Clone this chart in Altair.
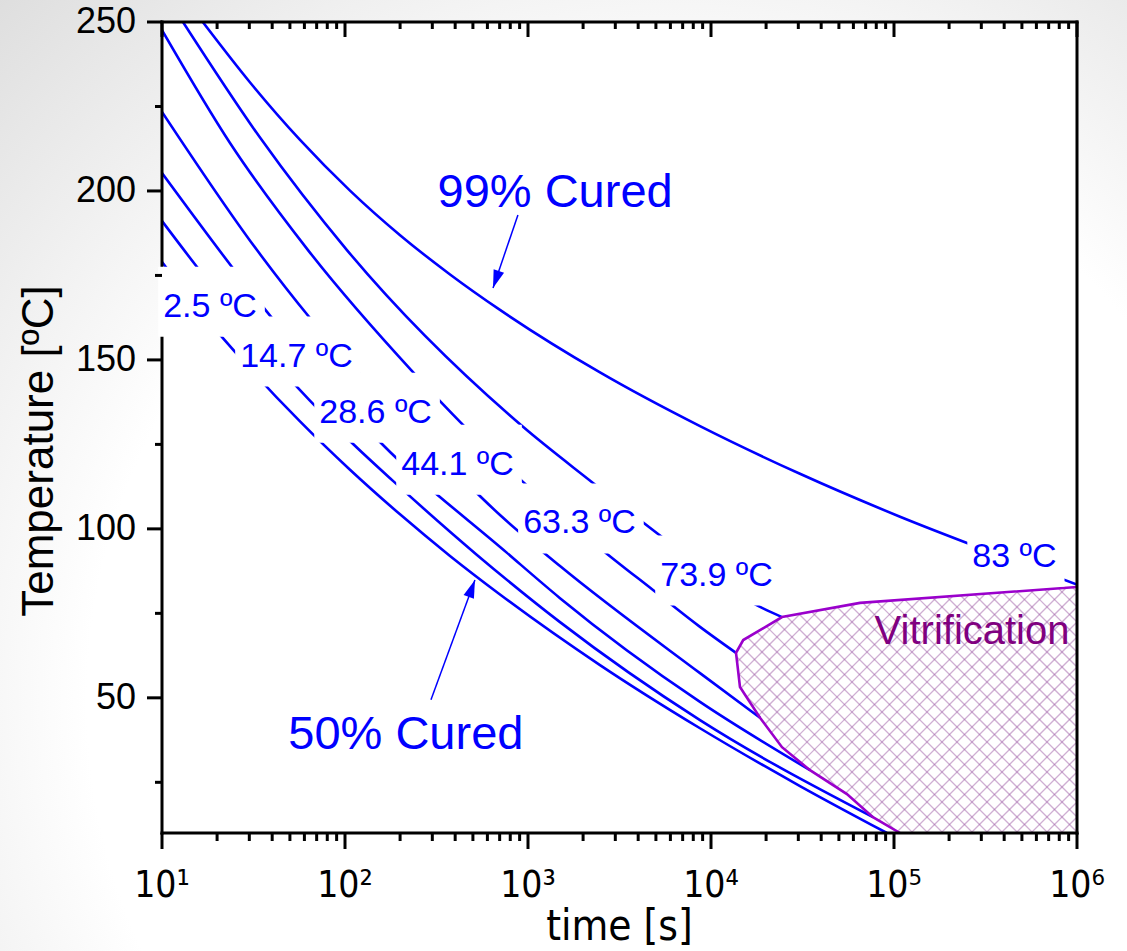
import math
import pandas as pd
import altair as alt

# ---------------------------------------------------------------------------
# Plot geometry and axes
# ---------------------------------------------------------------------------
W, H = 915, 811
PAD = {"left": 162, "top": 22, "right": 50, "bottom": 118}
X_DOMAIN = [10, 1e6]
Y_DOMAIN = [10, 250]

X_MAJOR = [10, 100, 1e3, 1e4, 1e5, 1e6]
X_TICK_LABELS = ["10¹", "10²", "10³", "10⁴", "10⁵", "10⁶"]
X_MINOR = [m * d for d in [10, 100, 1e3, 1e4, 1e5] for m in range(2, 10)]
Y_MAJOR = [50, 100, 150, 200, 250]
Y_TICK_LABELS = ["50", "100", "150", "200", "250"]
Y_MINOR = [25, 75, 125, 175, 225]

BLUE = "#0000ff"
PURPLE = "#9a00cc"
DARK_PURPLE = "#800080"
FONT = "Liberation Sans"
NARROW = "Liberation Sans Narrow, Arial Narrow, DejaVu Sans Condensed, Liberation Sans"

# ---------------------------------------------------------------------------
# Iso-Tg cure curves: time [s] and temperature [ºC]
# ---------------------------------------------------------------------------
time_2_5 = [10, 16.13, 30.27, 56.77, 106.5, 199.8, 374.8, 703.1, 2474, 8708, 30640, 91560]
temp_2_5 = [179.0, 164.5, 147.4, 131.8, 117.5, 104.3, 92.0, 80.6, 59.7, 41.0, 23.9, 10.0]

time_14_7 = [10, 15.54, 54.66, 106.5, 182.9, 526.3, 1496, 8708, 76740]
temp_14_7 = [191.1, 177.5, 142.0, 126.0, 114.2, 92.3, 72.4, 43.4, 14.7]

time_28_6 = [10, 24.13, 37.49, 155.4, 767.9, 1496, 8708, 34750]
temp_28_6 = [205.3, 177.5, 164.2, 125.7, 92.9, 79.5, 48.8, 28.6]

time_44_1 = [10, 33.04, 64.38, 277.1, 703.1, 1496, 8708, 18530]
temp_44_1 = [223.4, 182.5, 162.4, 125.7, 104.1, 89.0, 57.3, 44.1]

time_63_3 = [10, 23.53, 62.79, 235.3, 441.4, 939.1, 2474, 4821, 8708, 13700]
temp_63_3 = [247.6, 214.2, 182.5, 146.4, 130.8, 113.9, 94.3, 81.9, 71.0, 63.3]

time_73_9 = [13.02, 34.32, 102.5, 939.1, 2266, 5398, 18070, 24430]
temp_73_9 = [250, 215.8, 182.5, 130.2, 113.6, 97.6, 77.2, 73.9]

time_83 = [16.7, 30.3, 56.8, 106.5, 200, 375, 703, 2474, 8710, 30620, 107900, 379500, 1e6]
temp_83 = [250, 232.1, 215.1, 200.1, 186.9, 175.3, 164.8, 146.3, 130.4, 116.3, 103.6, 92.1, 83.5]

CURVES = [
    ("2.5", time_2_5, temp_2_5),
    ("14.7", time_14_7, temp_14_7),
    ("28.6", time_28_6, temp_28_6),
    ("44.1", time_44_1, temp_44_1),
    ("63.3", time_63_3, temp_63_3),
    ("73.9", time_73_9, temp_73_9),
    ("83", time_83, temp_83),
]

# Curve labels (Tg of each iso-conversion line) and where they sit
label_text = ["2.5 ºC", "14.7 ºC", "28.6 ºC", "44.1 ºC", "63.3 ºC", "73.9 ºC", "83 ºC"]
label_time = [18.3, 54.3, 146.9, 412, 1910, 10720, 455000]
label_temp = [165.7, 151.0, 134.4, 119.0, 101.6, 86.2, 91.8]
LABEL_FS = 34

# Vitrification boundary (ordered by temperature)
vit_time = [107900, 76740, 55300, 34750, 24430, 18530, 14400, 13700, 15000, 24430, 65200, 1e6]
vit_temp = [10.0, 14.7, 21.5, 28.6, 35.4, 44.1, 53.2, 63.3, 67.1, 73.9, 78.1, 82.8]

# Annotation arrows: tail -> tip
arrow_names = ["99% Cured", "50% Cured"]
arrow_tail_time = [881, 295]
arrow_tail_temp = [192.9, 49.4]
arrow_tip_time = [644, 513]
arrow_tip_temp = [171.3, 84.9]
note_time = [1406, 215]
note_temp = [199.3, 39.0]


# ---------------------------------------------------------------------------
# Helpers
# ---------------------------------------------------------------------------
def to_px(t, T):
    u = (math.log10(t) - 1) / 5 * W
    v = (Y_DOMAIN[1] - T) / (Y_DOMAIN[1] - Y_DOMAIN[0]) * H
    return u, v


def from_px(u, v):
    t = 10 ** (1 + u / W * 5)
    T = Y_DOMAIN[1] - v / H * (Y_DOMAIN[1] - Y_DOMAIN[0])
    return t, T


EM = {".": 0.278, " ": 0.278, "º": 0.365, "C": 0.722}


def box_shape(text):
    w = LABEL_FS * sum(EM.get(c, 0.556) for c in text)
    left = w / 2 + 5
    right = w / 2 + 8
    return f"M{-left:.1f},-40H{right:.1f}V30H{-left:.1f}Z"


def heading(t0, T0, t1, T1):
    u0, v0 = to_px(t0, T0)
    u1, v1 = to_px(t1, T1)
    return math.degrees(math.atan2(u1 - u0, -(v1 - v0))) % 360


def hatch_segments(poly, step):
    """Cross-hatch (two 45° families) clipped to a polygon, returned in data units."""
    pts = [to_px(t, T) for t, T in poly]
    rows = []
    for s in (1, -1):
        vals = [u + s * v for u, v in pts]
        c = math.floor(min(vals) / step) * step
        while c <= max(vals):
            hits = []
            n = len(pts)
            for i in range(n):
                (u0, v0), (u1, v1) = pts[i], pts[(i + 1) % n]
                f0 = u0 + s * v0 - c
                f1 = u1 + s * v1 - c
                if (f0 < 0) != (f1 < 0):
                    a = f0 / (f0 - f1)
                    hits.append((u0 + a * (u1 - u0), v0 + a * (v1 - v0)))
            hits.sort()
            for k in range(0, len(hits) - 1, 2):
                t1, T1 = from_px(*hits[k])
                t2, T2 = from_px(*hits[k + 1])
                rows.append({"t1": t1, "T1": T1, "t2": t2, "T2": T2})
            c += step
    return pd.DataFrame(rows)


# ---------------------------------------------------------------------------
# Data frames
# ---------------------------------------------------------------------------
curve_rows = []
for name, ts, Ts in CURVES:
    for i, (t, T) in enumerate(zip(ts, Ts)):
        curve_rows.append({"curve": name, "seq": i, "t": t, "T": T})
curves_df = pd.DataFrame(curve_rows)

labels_df = pd.DataFrame({
    "label": label_text,
    "t": label_time,
    "T": label_temp,
    "box": [box_shape(s) for s in label_text],
})

vit_df = pd.DataFrame({"t": vit_time, "T": vit_temp, "seq": range(len(vit_time))})
region = list(zip(vit_time, vit_temp)) + [(1e6, 10.0)]
hatch_df = hatch_segments(region, step=15.0)

arrows_df = pd.DataFrame({
    "name": arrow_names,
    "t0": arrow_tail_time, "T0": arrow_tail_temp,
    "t1": arrow_tip_time, "T1": arrow_tip_temp,
    "ang": [heading(a, b, c, d) for a, b, c, d in
            zip(arrow_tail_time, arrow_tail_temp, arrow_tip_time, arrow_tip_temp)],
})
notes_df = pd.DataFrame({"name": arrow_names, "t": note_time, "T": note_temp})

x_major_df = pd.DataFrame({"t": X_MAJOR, "label": X_TICK_LABELS})
x_minor_df = pd.DataFrame({"t": X_MINOR})
y_major_df = pd.DataFrame({"T": Y_MAJOR, "label": Y_TICK_LABELS})
y_minor_df = pd.DataFrame({"T": Y_MINOR})
one = alt.Data(values=[{"k": 0}])

# ---------------------------------------------------------------------------
# Scales
# ---------------------------------------------------------------------------
xs = alt.Scale(type="log", domain=X_DOMAIN)
ys = alt.Scale(domain=Y_DOMAIN, nice=False, zero=False)
X = lambda f: alt.X(f, scale=xs, axis=None)
Y = lambda f: alt.Y(f, scale=ys, axis=None)

GRADIENT = {
    "gradient": "radial",
    "x1": 0.6, "y1": 0.7, "x2": 0.6, "y2": 0.7, "r1": 0, "r2": 0.95,
    "stops": [
        {"offset": 0, "color": "#ffffff"},
        {"offset": 0.55, "color": "#ffffff"},
        {"offset": 1, "color": "#d6d6d6"},
    ],
}

background = alt.Chart(one).mark_rect(fill=GRADIENT, clip=False).encode(
    x=alt.value(-PAD["left"]), x2=alt.value(W + PAD["right"]),
    y=alt.value(-PAD["top"]), y2=alt.value(H + PAD["bottom"]),
)
plot_bg = alt.Chart(one).mark_rect(fill="white").encode(
    x=alt.value(0), x2=alt.value(W), y=alt.value(0), y2=alt.value(H),
)

vit_fill = alt.Chart(vit_df).mark_area(
    orient="horizontal", color="#e5cde5", opacity=1, clip=True
).encode(y=Y("T:Q"), x=X("t:Q"), x2=alt.datum(1e6), order="seq:Q")

hatch = alt.Chart(hatch_df).mark_rule(
    color="#a060a8", strokeWidth=1.3, opacity=0.5, clip=True
).encode(x=X("t1:Q"), x2="t2:Q", y=Y("T1:Q"), y2="T2:Q")

lines = alt.Chart(curves_df).mark_line(
    color=BLUE, strokeWidth=2.6, clip=True, interpolate="monotone"
).encode(x=X("t:Q"), y=Y("T:Q"), detail="curve:N", order="seq:Q")

vit_line = alt.Chart(vit_df).mark_line(color=PURPLE, strokeWidth=2.6, clip=True).encode(
    x=X("t:Q"), y=Y("T:Q"), order="seq:Q")

# Frame lines
rule = dict(color="black", strokeWidth=3, clip=False)
frame_left = alt.Chart(one).mark_rule(**rule).encode(
    x=alt.value(0), y=alt.value(-1.5), y2=alt.value(H + 1.5))
frame_right = alt.Chart(one).mark_rule(**rule).encode(
    x=alt.value(W), y=alt.value(-1.5), y2=alt.value(H + 1.5))
frame_top = alt.Chart(one).mark_rule(**rule).encode(
    y=alt.value(0), x=alt.value(-1.5), x2=alt.value(W + 1.5))
frame_bottom = alt.Chart(one).mark_rule(**rule).encode(
    y=alt.value(H), x=alt.value(-1.5), x2=alt.value(W + 1.5))

# Ticks: outward on bottom and left, inward on top
top_major = alt.Chart(x_major_df).mark_rule(**rule).encode(
    x=X("t:Q"), y=alt.value(0), y2=alt.value(15))
top_minor = alt.Chart(x_minor_df).mark_rule(**rule).encode(
    x=X("t:Q"), y=alt.value(0), y2=alt.value(7))
bottom_major = alt.Chart(x_major_df).mark_rule(**rule).encode(
    x=X("t:Q"), y=alt.value(H), y2=alt.value(H + 16))
bottom_minor = alt.Chart(x_minor_df).mark_rule(**rule).encode(
    x=X("t:Q"), y=alt.value(H), y2=alt.value(H + 8))
left_major = alt.Chart(y_major_df).mark_rule(**rule).encode(
    y=Y("T:Q"), x=alt.value(-15), x2=alt.value(0))
left_minor = alt.Chart(y_minor_df).mark_rule(**rule).encode(
    y=Y("T:Q"), x=alt.value(-7), x2=alt.value(0))

x_tick_text = alt.Chart(x_major_df).mark_text(
    font=NARROW, fontSize=37, color="black", align="center", baseline="alphabetic"
).encode(x=X("t:Q"), y=alt.value(H + 64), text="label:N")
y_tick_text = alt.Chart(y_major_df).mark_text(
    font=FONT, fontSize=36, color="black", align="right", baseline="middle"
).encode(y=Y("T:Q"), x=alt.value(-26), text="label:N")

x_title = alt.Chart(alt.Data(values=[{"s": "time [s]"}])).mark_text(
    font=NARROW, fontSize=42, color="black", align="center", baseline="alphabetic"
).encode(x=alt.value(W / 2), y=alt.value(H + 107), text="s:N")
y_title = alt.Chart(alt.Data(values=[{"s": "Temperature [ºC]"}])).mark_text(
    font=FONT, fontSize=44, color="black", align="center", baseline="alphabetic", angle=270
).encode(x=alt.value(-109), y=alt.value(429), text="s:N")

boxes = alt.Chart(labels_df).mark_point(
    filled=True, color="white", opacity=1, size=4, strokeWidth=0
).encode(x=X("t:Q"), y=Y("T:Q"), shape=alt.Shape("box:N", scale=None))

label_marks = alt.Chart(labels_df).mark_text(
    font=FONT, fontSize=LABEL_FS, color=BLUE, align="center", baseline="middle"
).encode(x=X("t:Q"), y=Y("T:Q"), text="label:N")

shafts = alt.Chart(arrows_df).mark_rule(color=BLUE, strokeWidth=1.5).encode(
    x=X("t0:Q"), x2="t1:Q", y=Y("T0:Q"), y2="T1:Q")
heads = alt.Chart(arrows_df).mark_point(
    filled=True, color=BLUE, opacity=1, size=4, strokeWidth=0,
    shape="M0,0L-5.5,18L5.5,18Z",
).encode(x=X("t1:Q"), y=Y("T1:Q"), angle=alt.Angle("ang:Q", scale=None))

notes = alt.Chart(notes_df).mark_text(
    font=FONT, fontSize=47, color=BLUE, align="center", baseline="middle"
).encode(x=X("t:Q"), y=Y("T:Q"), text="name:N")

vit_text = alt.Chart(alt.Data(values=[{"t": 2.67e5, "T": 69.5, "s": "Vitrification"}])).mark_text(
    font=FONT, fontSize=40, color=DARK_PURPLE, align="center", baseline="middle"
).encode(x=X("t:Q"), y=Y("T:Q"), text="s:N")

chart = alt.layer(
    background, plot_bg, vit_fill, hatch, lines, vit_line, frame_left,
    boxes,
    frame_right, frame_top, frame_bottom,
    top_major, top_minor, bottom_major, bottom_minor, left_major, left_minor,
    x_tick_text, y_tick_text, x_title, y_title,
    label_marks, shafts, heads, notes, vit_text,
).properties(
    width=W, height=H, padding=PAD, autosize="none", background="white",
).configure_view(stroke=None)

chart.save("out.html", embed_options={"renderer": "svg", "actions": False})
